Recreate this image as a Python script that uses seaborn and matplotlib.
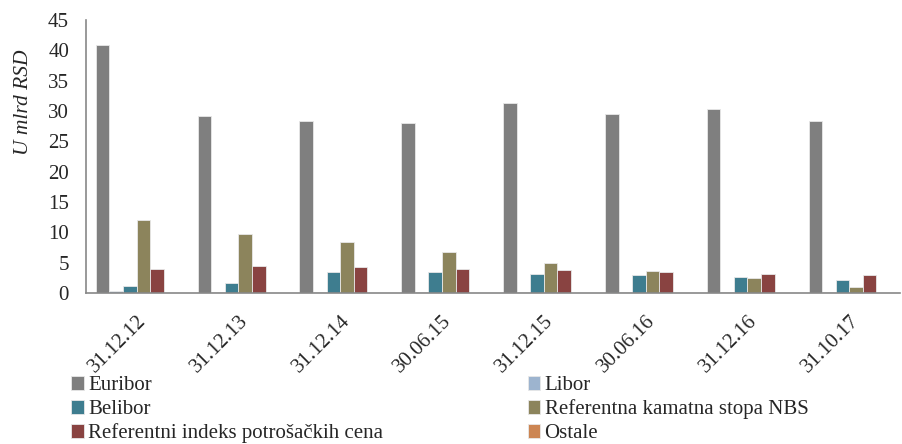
import numpy as np
import pandas as pd
import seaborn as sns
import matplotlib.pyplot as plt

# Datumi (kategorije na x osi)
dates = ['31.12.12', '31.12.13', '31.12.14', '30.06.15',
         '31.12.15', '30.06.16', '31.12.16', '31.10.17']

# Vrednosti po serijama (u mlrd RSD)
euribor = [40.9, 29.2, 28.4, 28.1, 31.4, 29.5, 30.4, 28.3]
libor = [0.3, 0.2, 0.2, 0.2, 0.2, 0.2, 0.2, 0.2]
belibor = [1.15, 1.6, 3.5, 3.4, 3.15, 2.9, 2.6, 2.15]
nbs = [12.0, 9.8, 8.4, 6.7, 4.9, 3.6, 2.5, 1.05]
ripc = [4.0, 4.5, 4.25, 4.0, 3.75, 3.4, 3.2, 2.9]
ostale = [0.0, 0.0, 0.0, 0.0, 0.0, 0.0, 0.0, 0.0]

series_names = ['Euribor', 'Libor', 'Belibor', 'Referentna kamatna stopa NBS',
                'Referentni indeks potrošačkih cena', 'Ostale']
series_values = [euribor, libor, belibor, nbs, ripc, ostale]
colors = ['#7f7f7f', '#95b3d7', '#31859c', '#948a54', '#953735', '#e0823e']

rows = []
for name, vals in zip(series_names, series_values):
    for d, v in zip(dates, vals):
        rows.append({'Datum': d, 'Serija': name, 'Vrednost': v})
df = pd.DataFrame(rows)

sns.set_style('white')
plt.rcParams['font.family'] = ['Liberation Serif', 'DejaVu Serif']

fig = plt.figure(figsize=(9.02, 4.44), dpi=100)
ax = fig.add_axes([0.095, 0.34, 0.903, 0.615])

sns.barplot(data=df, x='Datum', y='Vrednost', hue='Serija', order=dates,
            hue_order=series_names, palette=colors, width=0.8,
            edgecolor='#e8e8e8', linewidth=0.6, ax=ax)

ax.set_ylim(0, 45)
ax.set_yticks(np.arange(0, 46, 5))
ax.set_xlim(-0.5, len(dates) - 0.5)
ax.set_xlabel('')
ax.set_ylabel('U mlrd RSD', fontsize=15.5, style='italic')
ax.yaxis.set_label_coords(-0.065, 0.70)

# Oznake na sredini, crtice na granicama kategorija
ax.set_xticks(np.arange(len(dates)))
ax.set_xticklabels(dates, rotation=45, ha='right', rotation_mode='anchor', fontsize=15)
ax.set_xticks(np.arange(len(dates) + 1) - 0.5, minor=True)
ax.tick_params(axis='x', which='major', length=0, pad=13)
ax.tick_params(axis='x', which='minor', length=7, width=1.2, color='#888888', direction='out')
ax.tick_params(axis='y', length=7, width=1.2, color='#888888', direction='out',
               labelsize=15, pad=5)

for s in ['top', 'right']:
    ax.spines[s].set_visible(False)
for s in ['left', 'bottom']:
    ax.spines[s].set_color('#888888')
    ax.spines[s].set_linewidth(1.2)

# Legenda popunjena po redovima (kao u originalu)
handles, labels = ax.get_legend_handles_labels()
order = [0, 2, 4, 1, 3, 5]
ax.legend([handles[i] for i in order], [labels[i] for i in order], ncol=2,
          loc='upper left', bbox_to_anchor=(-0.0175, -0.303),
          frameon=False, fontsize=15, handlelength=0.6, handleheight=0.7,
          handletextpad=0.2, columnspacing=6.95, labelspacing=0.2,
          borderaxespad=0, borderpad=0)

plt.savefig('out.png', dpi=100)
